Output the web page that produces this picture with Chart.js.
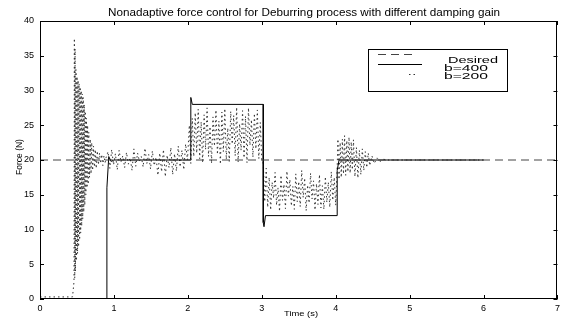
<!DOCTYPE html>
<html>
<head>
<meta charset="utf-8">
<script src="https://cdn.jsdelivr.net/npm/chart.js@4.4.1/dist/chart.umd.min.js"></script>
<style>
html,body{margin:0;padding:0;background:#fff;}
canvas{display:block;}
</style>
</head>
<body>
<canvas id="c" width="564" height="320"></canvas>
<script>
const titleText = 'Nonadaptive force control for Deburring process with different damping gain';
const xAxisLabel = 'Time (s)';
const yAxisLabel = 'Force (N)';
const legendLabels = ['Desired', 'b=400', 'b=200'];
const xTicks = [0, 1, 2, 3, 4, 5, 6, 7];
const yTicks = [0, 5, 10, 15, 20, 25, 30, 35, 40];

const timeDesired = [0, 7];
const forceDesired = [20, 20];

const timeB400 = [0, 0.905, 0.905, 0.93, 0.96, 1.0, 2.04, 2.04, 2.06, 3.02, 3.02, 3.03, 3.05, 4.02, 4.02, 4.045, 6.0];
const forceB400 = [0, 0, 16, 20.5, 19.8, 20, 20, 29, 28, 28, 11, 10.4, 12, 12, 18.5, 20, 20];

const timeB200 = [
  0, 0.44, 0.46, 0.465, 0.47, 0.475, 0.48, 0.487, 0.494, 0.501, 0.508, 0.515, 0.522, 0.529, 0.536, 0.543, 0.55, 0.557, 0.564, 0.571, 0.578, 0.585, 0.592, 0.599, 0.606, 0.613, 0.62, 0.628, 0.636, 0.644, 0.652, 0.66, 0.67, 0.68, 0.69, 0.70, 0.712, 0.724, 0.736, 0.748, 0.76, 0.775, 0.79, 0.805, 0.82, 0.835, 0.85, 0.865, 0.88, 0.895,
  0.92, 0.945, 0.97, 0.995, 1.02, 1.045, 1.07, 1.095, 1.12, 1.145, 1.17, 1.195, 1.22, 1.245, 1.27, 1.295, 1.32, 1.345, 1.37, 1.395, 1.42, 1.445, 1.47, 1.495, 1.52, 1.545, 1.57, 1.595, 1.62, 1.645, 1.67, 1.695, 1.72, 1.745, 1.77, 1.795, 1.82, 1.845, 1.87, 1.895, 1.92, 1.945, 1.97, 1.995,
  2.02, 2.04, 2.06, 2.08, 2.10, 2.12, 2.14, 2.16, 2.18, 2.20, 2.22, 2.24, 2.26, 2.28, 2.30, 2.32, 2.34, 2.36, 2.38, 2.40, 2.42, 2.44, 2.46, 2.48, 2.50, 2.52, 2.54, 2.56, 2.58, 2.60, 2.62, 2.64, 2.66, 2.68, 2.70, 2.72, 2.74, 2.76, 2.78, 2.80, 2.82, 2.84, 2.86, 2.88, 2.90, 2.92, 2.94, 2.96, 2.98, 3.00,
  3.02, 3.04, 3.06, 3.08, 3.10, 3.12, 3.14, 3.16, 3.18, 3.20, 3.22, 3.24, 3.26, 3.28, 3.30, 3.32, 3.34, 3.36, 3.38, 3.40, 3.42, 3.44, 3.46, 3.48, 3.50, 3.52, 3.54, 3.56, 3.58, 3.60, 3.62, 3.64, 3.66, 3.68, 3.70, 3.72, 3.74, 3.76, 3.78, 3.80, 3.82, 3.84, 3.86, 3.88, 3.90, 3.92, 3.94, 3.96, 3.98, 4.00,
  4.02, 4.03, 4.045, 4.06, 4.075, 4.09, 4.105, 4.12, 4.135, 4.15, 4.165, 4.18, 4.195, 4.21, 4.225, 4.24, 4.26, 4.28, 4.30, 4.32, 4.34, 4.36, 4.38, 4.40, 4.42, 4.44, 4.46, 4.49, 4.52, 4.56, 4.60, 4.65, 4.70, 6.0
];
const forceB200 = [
  0.3, 0.3, 2.5, 37.5, 3, 36, 4, 33, 5.5, 32, 6.5, 31.5, 7.5, 31, 8.5, 30.5, 9.5, 30, 10.5, 29.5, 11.5, 29, 12.5, 28, 13.5, 27, 15, 26, 16, 25, 16.5, 24, 17.5, 23, 18, 22.5, 18.5, 22, 19, 21.5, 18.8, 21.3, 19.3, 21, 19.5, 20.8, 19.2, 20.6, 19.6, 20.4,
  21.2, 18.8, 21.5, 19.3, 20.9, 18.6, 21.4, 19.7, 20.6, 18.9, 21.1, 19.4, 20.3, 18.5, 21.6, 19.1, 21.0, 19.8, 20.5, 19.0, 21.7, 19.5, 20.8, 18.7, 21.3, 19.2, 20.4, 17.8, 21.0, 18.3, 21.5, 17.6, 20.7, 18.9, 21.8, 17.9, 20.9, 18.4, 22.0, 19.0, 21.4, 18.6, 22.3, 20.0,
  25, 19.5, 26, 20.5, 26.8, 21, 27.3, 20.2, 25.5, 19.6, 26.5, 21.5, 27.5, 20.5, 24.8, 19.5, 26.2, 22, 27.2, 20.8, 25.6, 19.4, 26.9, 21.2, 27.4, 20.1, 24.6, 19.8, 27, 22.3, 26.4, 20.6, 27.6, 19.7, 25.2, 21.4, 27.1, 20.3, 26.3, 19.6, 27.5, 22.1, 25.8, 20.4, 26.7, 21.6, 27.2, 20.2, 25.4, 20,
  19.5, 14, 18.8, 13.2, 17.5, 12.8, 16.8, 14.5, 18.2, 13.5, 16, 12.6, 17.8, 14.2, 16.5, 13, 18.4, 14.8, 17.2, 13.4, 16.2, 12.9, 18.0, 14, 16.9, 13.3, 18.5, 14.6, 17.4, 12.7, 16.4, 13.8, 18.1, 14.4, 17, 12.8, 16.6, 13.6, 17.9, 13.1, 16.3, 12.9, 17.6, 13.9, 16.8, 13.2, 18.3, 14.2, 17.5, 13.5,
  19, 23, 17.2, 22.5, 17.5, 23, 18, 23.5, 17.8, 22.8, 18.3, 23.3, 18.1, 22.6, 18.6, 22.9, 17.6, 21.8, 17.4, 21.4, 17.9, 21.6, 18.5, 21.2, 18.9, 21, 19.2, 20.6, 19.5, 20.3, 19.8, 20.1, 20, 20
];

function pairs(xs, ys) { return xs.map((x, i) => ({ x: x, y: ys[i] })); }

const FONT = '"Liberation Sans", Arial, sans-serif';

function stretchedText(ctx, text, x, y, width, align) {
  const w = ctx.measureText(text).width;
  const sx = width / w;
  ctx.save();
  ctx.translate(x, y);
  ctx.scale(sx, 1);
  ctx.textAlign = align;
  ctx.fillText(text, 0, 0);
  ctx.restore();
}

const framePlugin = {
  id: 'frame',
  afterDraw(chart) {
    const ctx = chart.ctx;
    const a = chart.chartArea;
    const xs = chart.scales.x, ys = chart.scales.y;
    ctx.save();
    ctx.strokeStyle = '#000';
    ctx.lineWidth = 1;
    ctx.setLineDash([]);
    ctx.strokeRect(Math.round(a.left) + 0.5, Math.round(a.top) + 0.5, Math.round(a.right - a.left) - 1, Math.round(a.bottom - a.top) - 1);
    const tl = 4;
    ctx.beginPath();
    xTicks.forEach(v => {
      const px = Math.round(xs.getPixelForValue(v)) + 0.5;
      ctx.moveTo(px, a.bottom); ctx.lineTo(px, a.bottom - tl);
      ctx.moveTo(px, a.top); ctx.lineTo(px, a.top + tl);
    });
    yTicks.forEach(v => {
      const py = Math.round(ys.getPixelForValue(v)) + 0.5;
      ctx.moveTo(a.left, py); ctx.lineTo(a.left + tl, py);
      ctx.moveTo(a.right, py); ctx.lineTo(a.right - tl, py);
    });
    ctx.stroke();

    ctx.fillStyle = '#000';
    ctx.textBaseline = 'middle';
    ctx.font = '10px ' + FONT;
    stretchedText(ctx, titleText, 304, 13, 392, 'center');
    ctx.font = '8px ' + FONT;
    stretchedText(ctx, xAxisLabel, 301, 314, 34, 'center');
    ctx.save();
    ctx.translate(20, 157);
    ctx.rotate(-Math.PI / 2);
    ctx.font = '8.5px ' + FONT;
    ctx.textAlign = 'center';
    ctx.fillText(yAxisLabel, 0, 0);
    ctx.restore();

    // legend
    ctx.fillStyle = '#fff';
    ctx.fillRect(368, 49, 139, 43);
    ctx.strokeStyle = '#000';
    ctx.strokeRect(368.5, 49.5, 139, 42);
    const ds = chart.data.datasets;
    const sampleY = [54.5, 64.5, 74.5];
    const textY = [61, 69, 77];
    const textX = [448, 444, 444];
    const textW = [50, 44, 44];
    ctx.font = '9px ' + FONT;
    for (let i = 0; i < 3; i++) {
      ctx.beginPath();
      ctx.setLineDash(ds[i].borderDash || []);
      ctx.strokeStyle = ds[i].borderColor;
      if (i === 2) { ctx.moveTo(409, sampleY[i]); ctx.lineTo(415, sampleY[i]); }
      else { ctx.moveTo(378, sampleY[i]); ctx.lineTo(i === 1 ? 422 : 416, sampleY[i]); }
      ctx.stroke();
      ctx.setLineDash([]);
      ctx.fillStyle = '#000';
      stretchedText(ctx, legendLabels[i], textX[i], textY[i], textW[i], 'left');
    }
    ctx.restore();
  }
};

new Chart(document.getElementById('c'), {
  type: 'line',
  data: {
    datasets: [
      { label: legendLabels[0], data: pairs(timeDesired, forceDesired), borderColor: '#444', borderWidth: 1, borderDash: [8, 5], pointRadius: 0, tension: 0, fill: false },
      { label: legendLabels[1], data: pairs(timeB400, forceB400), borderColor: '#000', borderWidth: 1, pointRadius: 0, tension: 0, fill: false },
      { label: legendLabels[2], data: pairs(timeB200, forceB200), borderColor: '#333', borderWidth: 1, borderDash: [1.5, 3], pointRadius: 0, tension: 0, fill: false }
    ]
  },
  options: {
    responsive: false,
    animation: false,
    devicePixelRatio: 1,
    layout: { padding: { top: 21, right: 3, left: 0, bottom: 0 } },
    plugins: { legend: { display: false }, tooltip: { enabled: false }, title: { display: false } },
    scales: {
      x: {
        type: 'linear', min: 0, max: 7,
        grid: { display: false, drawTicks: false },
        border: { display: false },
        ticks: { stepSize: 1, color: '#000', font: { family: FONT, size: 9 }, padding: 4, maxRotation: 0 },
        afterBuildTicks: s => { s.ticks = xTicks.map(v => ({ value: v })); },
        afterFit: s => { s.height = 21; }
      },
      y: {
        type: 'linear', min: 0, max: 40,
        grid: { display: false, drawTicks: false },
        border: { display: false },
        ticks: { stepSize: 5, color: '#000', font: { family: FONT, size: 9 }, padding: 6 },
        afterBuildTicks: s => { s.ticks = yTicks.map(v => ({ value: v })); },
        afterFit: s => { s.width = 40; }
      }
    }
  },
  plugins: [framePlugin]
});
</script>
</body>
</html>
